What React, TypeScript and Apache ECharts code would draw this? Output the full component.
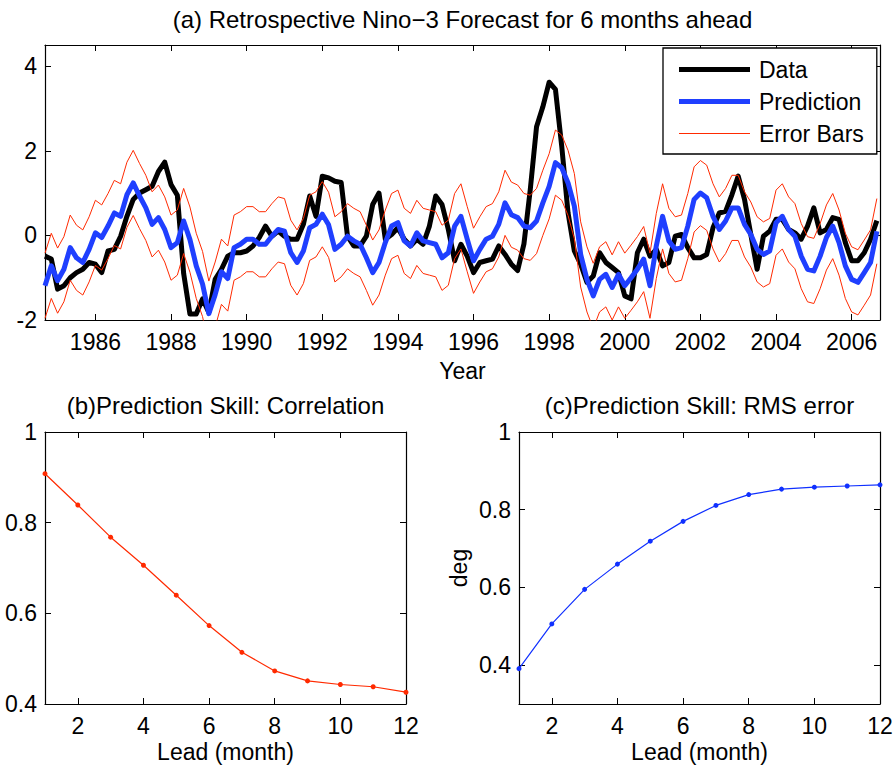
import React, { useEffect, useRef } from "react";
import * as echarts from "echarts";

// ---------- data ----------
const startYear = 1984 + 8 / 12; // first sample (Sep 1984)
const stepYears = 2 / 12; // one sample every two months
const xMin = 1984 + 8 / 12;
const xMax = 2006.75;
const yearTicks = [1986, 1988, 1990, 1992, 1994, 1996, 1998, 2000, 2002, 2004, 2006];
const topYTicks = [-2, 0, 2, 4];

const nino3Data = [
  -0.49, -0.56, -1.27, -1.19, -1.0, -0.88, -0.8, -0.64, -0.68, -0.88,
  -0.37, -0.33, -0.02, 0.45, 0.85, 1.0, 1.08, 1.16, 1.51, 1.73,
  1.2, 0.95, -0.9, -1.86, -1.86, -1.5, -1.82, -1.04, -0.8, -0.49,
  -0.41, -0.41, -0.37, -0.25, -0.05, 0.22, -0.02, 0.1, -0.02, -0.09,
  -0.09, 0.26, 0.93, 0.45, 1.4, 1.36, 1.28, 1.25, -0.02, -0.25,
  -0.25, -0.02, 0.73, 1.0, -0.09, 0.02, 0.18, -0.09, -0.25, -0.09,
  -0.21, 0.22, 0.93, 0.73, 0.14, -0.6, -0.21, -0.49, -0.88, -0.64,
  -0.6, -0.56, -0.25, -0.45, -0.68, -0.83, -0.2, 1.08, 2.57, 3.04,
  3.62, 3.45, 2.1, 0.53, -0.37, -0.68, -1.11, -0.96, -0.41, -0.64,
  -0.76, -0.88, -1.43, -1.5, -0.41, -0.09, -0.49, -0.33, -0.72, -0.64,
  -0.02, 0.02, -0.29, -0.53, -0.53, -0.45, 0.18, 0.53, 0.57, 0.96,
  1.4, 0.85, 0.02, -0.8, -0.02, 0.1, 0.38, 0.38, 0.14, 0.06,
  -0.09, 0.22, 0.65, 0.06, 0.14, 0.42, 0.38, -0.17, -0.6, -0.6,
  -0.41, -0.09, 0.35,
];

const nino3Prediction = [
  -1.19, -0.72, -1.07, -0.8, -0.29, -0.53, -0.64, -0.33, 0.06, -0.05,
  0.22, 0.53, 0.45, 0.96, 1.24, 0.93, 0.65, 0.26, 0.42, 0.14,
  -0.29, -0.17, 0.34, -0.1, -0.72, -1.15, -1.85, -1.4, -0.86, -1.02,
  -0.29, -0.21, -0.09, -0.09, -0.21, -0.21, -0.02, 0.14, 0.1, -0.41,
  -0.64, -0.37, 0.18, 0.26, 0.5, 0.25, -0.33, -0.21, -0.02, -0.13,
  -0.21, -0.53, -0.88, -0.64, -0.17, 0.22, 0.3, -0.13, -0.25, 0.06,
  -0.13, -0.17, -0.21, -0.53, -0.41, 0.22, 0.45, -0.09, -0.6, -0.33,
  -0.09, -0.02, 0.26, 0.77, 0.49, 0.42, 0.22, 0.18, 0.34, 0.77,
  1.16, 1.72, 1.6, 1.24, 0.69, -0.45, -1.04, -1.43, -1.04, -0.92,
  -1.23, -0.92, -1.19, -1.0, -0.8, -0.56, -1.19, -0.25, 0.45, -0.13,
  -0.33, -0.29, 0.22, 0.85, 1.0, 0.89, 0.45, 0.14, 0.34, 0.65,
  0.65, 0.26, 0.02, -0.33, -0.45, -0.37, 0.3, 0.45, 0.14, -0.02,
  -0.49, -0.8, -0.84, -0.49, -0.05, 0.22, -0.17, -0.72, -1.04, -1.11,
  -0.88, -0.64, 0.1,
];

const leadMonths = [1, 2, 3, 4, 5, 6, 7, 8, 9, 10, 11, 12];
const leadTicks = [2, 4, 6, 8, 10, 12];
const correlationSkill = [0.908, 0.839, 0.768, 0.706, 0.64, 0.573, 0.514, 0.473, 0.451, 0.443, 0.438, 0.426];
const rmsError = [0.391, 0.506, 0.595, 0.66, 0.719, 0.77, 0.811, 0.839, 0.853, 0.858, 0.861, 0.864];
const skillTicks = [0.4, 0.6, 0.8, 1];
const forecastLead = 6;

// ---------- styling ----------
const FONT = '"Liberation Sans", Arial, Helvetica, sans-serif';
const BLUE = "#1f3fff";
const RED = "#ff2a00";
const TICK_FS = 23;
const TITLE_FS = 24;

function axisPair(
  dir: "x" | "y",
  gridIndex: number,
  min: number,
  max: number,
  ticks: number[],
  extra: any = {}
) {
  const common = {
    type: "value",
    gridIndex,
    min,
    max,
    splitLine: { show: false },
    axisLine: { show: true, onZero: false, lineStyle: { color: "#000", width: 1.2 } },
    axisTick: { show: true, inside: true, length: 6, customValues: ticks, lineStyle: { color: "#000", width: 1 } },
  };
  const main = {
    ...common,
    position: dir === "x" ? "bottom" : "left",
    axisLabel: {
      show: true,
      customValues: ticks,
      margin: dir === "x" ? 10 : 8,
      fontSize: TICK_FS,
      color: "#000",
      fontFamily: FONT,
      formatter: (v: number) => String(v),
    },
    ...extra,
  };
  const opposite = {
    ...common,
    position: dir === "x" ? "top" : "right",
    axisLabel: { show: false },
  };
  return [main, opposite];
}

function buildOption() {
  const half = rmsError[forecastLead - 1];
  const t = (i: number) => startYear + i * stepYears;
  const dataPts = nino3Data.map((v, i) => [t(i), v]);
  const predPts = nino3Prediction.map((v, i) => [t(i), v]);
  const upperPts = nino3Prediction.map((v, i) => [t(i), v + half]);
  const lowerPts = nino3Prediction.map((v, i) => [t(i), v - half]);

  const nameStyle = { fontSize: TICK_FS, color: "#000", fontFamily: FONT };

  const xAxes = [
    ...axisPair("x", 0, xMin, xMax, yearTicks, {
      name: "Year",
      nameLocation: "middle",
      nameGap: 39,
      nameTextStyle: nameStyle,
    }),
    ...axisPair("x", 1, 1, 12, leadTicks, {
      name: "Lead (month)",
      nameLocation: "middle",
      nameGap: 36,
      nameTextStyle: nameStyle,
    }),
    ...axisPair("x", 2, 1, 12, leadTicks, {
      name: "Lead (month)",
      nameLocation: "middle",
      nameGap: 36,
      nameTextStyle: nameStyle,
    }),
  ];
  const yAxes = [
    ...axisPair("y", 0, -2, 4.5, topYTicks),
    ...axisPair("y", 1, 0.4, 1, skillTicks),
    ...axisPair("y", 2, 0.3, 1, skillTicks, {
      name: "deg",
      nameLocation: "middle",
      nameRotate: 90,
      nameGap: 49,
      nameTextStyle: nameStyle,
    }),
  ];

  const thickIcon = "path://M0,0H71V5H0Z";
  const thinIcon = "path://M0,0H71V1.2H0Z";

  const titleStyle = {
    fontSize: TITLE_FS,
    fontFamily: FONT,
    fill: "#000",
    align: "center",
    verticalAlign: "middle",
  };

  return {
    animation: false,
    backgroundColor: "#fff",
    textStyle: { fontFamily: FONT },
    grid: [
      { left: 45, top: 45, width: 835, height: 275, outerBoundsMode: "none" },
      { left: 45, top: 432, width: 361, height: 272, outerBoundsMode: "none" },
      { left: 519, top: 432, width: 361, height: 272, outerBoundsMode: "none" },
    ],
    xAxis: xAxes,
    yAxis: yAxes,
    legend: {
      orient: "vertical",
      left: 663,
      top: 48,
      padding: [10, 13, 9, 16],
      borderColor: "#000",
      borderWidth: 1.3,
      backgroundColor: "#fff",
      itemWidth: 71,
      itemHeight: 10,
      itemGap: 9,
      selectedMode: false,
      textStyle: { fontSize: TICK_FS, lineHeight: 23, color: "#000", fontFamily: FONT, padding: [0, 0, 0, 4] },
      data: [
        { name: "Data", icon: thickIcon },
        { name: "Prediction", icon: thickIcon },
        { name: "Error Bars", icon: thinIcon },
      ],
    },
    graphic: [
      {
        type: "text",
        x: 462.5,
        y: 19,
        style: { ...titleStyle, text: "(a) Retrospective Nino\u22123 Forecast for 6 months ahead" },
      },
      {
        type: "text",
        x: 225.5,
        y: 405,
        style: { ...titleStyle, text: "(b)Prediction Skill: Correlation" },
      },
      {
        type: "text",
        x: 699.5,
        y: 405,
        style: { ...titleStyle, text: "(c)Prediction Skill: RMS error" },
      },
    ],
    series: [
      {
        name: "Data",
        type: "line",
        xAxisIndex: 0,
        yAxisIndex: 0,
        data: dataPts,
        symbol: "none",
        color: "#000",
        itemStyle: { color: "#000" },
        lineStyle: { color: "#000", width: 5, join: "round" },
        z: 2,
      },
      {
        name: "Prediction",
        type: "line",
        xAxisIndex: 0,
        yAxisIndex: 0,
        data: predPts,
        symbol: "none",
        color: BLUE,
        itemStyle: { color: BLUE },
        lineStyle: { color: BLUE, width: 5, join: "round" },
        z: 3,
      },
      {
        name: "Error Bars",
        type: "line",
        xAxisIndex: 0,
        yAxisIndex: 0,
        data: upperPts,
        symbol: "none",
        color: RED,
        itemStyle: { color: RED },
        lineStyle: { color: RED, width: 1 },
        z: 4,
      },
      {
        name: "Error Bars",
        type: "line",
        xAxisIndex: 0,
        yAxisIndex: 0,
        data: lowerPts,
        symbol: "none",
        color: RED,
        itemStyle: { color: RED },
        lineStyle: { color: RED, width: 1 },
        z: 4,
      },
      {
        name: "Correlation",
        type: "line",
        xAxisIndex: 2,
        yAxisIndex: 2,
        data: leadMonths.map((m, i) => [m, correlationSkill[i]]),
        symbol: "circle",
        symbolSize: 5,
        showSymbol: true,
        color: RED,
        itemStyle: { color: RED },
        lineStyle: { color: RED, width: 1.2 },
      },
      {
        name: "RMS error",
        type: "line",
        xAxisIndex: 4,
        yAxisIndex: 4,
        data: leadMonths.map((m, i) => [m, rmsError[i]]),
        symbol: "circle",
        symbolSize: 5,
        showSymbol: true,
        color: "#1030ff",
        itemStyle: { color: "#1030ff" },
        lineStyle: { color: "#1030ff", width: 1.2 },
      },
    ],
  };
}

export default function App() {
  const ref = useRef<HTMLDivElement>(null);
  useEffect(() => {
    if (!ref.current) return;
    const chart = echarts.init(ref.current, null, { renderer: "svg" });
    chart.setOption(buildOption() as any);
    return () => chart.dispose();
  }, []);
  return (
    <div
      ref={ref}
      style={{ position: "fixed", left: 0, top: 0, width: 894, height: 768, background: "#fff" }}
    />
  );
}
